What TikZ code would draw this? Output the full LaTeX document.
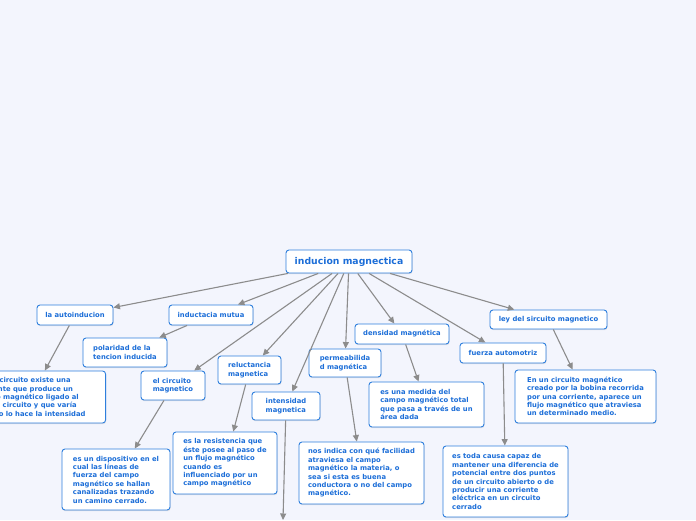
\documentclass[tikz,border=0pt]{standalone}
\usepackage{fontspec}
\setmainfont{DejaVu Sans}
\usetikzlibrary{arrows.meta,shadows}
\definecolor{mmblue}{HTML}{1C6ED8}
\definecolor{mmedge}{HTML}{2E7FDD}
\definecolor{mmgrey}{HTML}{8C8C8C}
\definecolor{mmbg}{HTML}{F3F5FD}

\begin{document}
\begin{tikzpicture}[
  x=1pt, y=-1pt,
  topic/.style={draw=mmedge, line width=0.9pt, fill=white, rounded corners=3pt,
                text=mmblue, align=left, inner xsep=8pt, inner ysep=2pt,
                font=\fontsize{6.8}{8.4}\selectfont\bfseries,
                drop shadow={shadow xshift=0.5pt, shadow yshift=-1.2pt, opacity=0.2}},
  main/.style={topic, align=center, font=\fontsize{9.3}{11}\selectfont\bfseries},
  link/.style={draw=mmgrey, line width=1.1pt, -{Triangle[length=6.5pt,width=6pt]}},
]

% ---------------- canvas -------------------------------------------
\fill[mmbg] (0,0) rectangle (696,520);
\clip (0,0) rectangle (696,520);

% ---------------- centre -------------------------------------------
\node[main, minimum width=126, minimum height=23] (root) at (349,261.5) {inducion magnectica};

% ---------------- first ring ---------------------------------------
\node[topic, minimum width=76, minimum height=20] (auto) at (75,315) {la autoinducion};
\node[topic, minimum width=84, minimum height=20] (mutua) at (211,315) {inductacia mutua};
\node[topic, minimum width=84, minimum height=29] (polar) at (125,352.5) {polaridad de la\\tencion inducida};
\node[topic, minimum width=64, minimum height=29] (circ) at (173,385.5) {el circuito\\magnetico};
\node[topic, minimum width=63, minimum height=28] (reluc) at (249.5,370) {reluctancia\\magnetica};
\node[topic, minimum width=68, minimum height=28] (inten) at (286,406) {intensidad\\magnetica};
\node[topic, minimum width=72, minimum height=28] (perm) at (345,363) {permeabilida\\d magnética};
\node[topic, minimum width=94, minimum height=20] (dens) at (402,334) {densidad magnética};
\node[topic, minimum width=117, minimum height=19] (ley) at (548.5,319.5) {ley del sircuito magnetico};
\node[topic, minimum width=86, minimum height=20] (fuerza) at (503,353) {fuerza automotriz};

% ---------------- descriptions -------------------------------------
\node[topic, anchor=east, minimum width=150, minimum height=52] (autoT) at (106,397)
  {En un circuito existe una\\corriente que produce un\\campo magnético ligado al\\propio circuito y que varía\\cuando lo hace la intensidad};
\node[topic, minimum width=108, minimum height=61] (circT) at (116,479.5)
  {es un dispositivo en el\\cual las líneas de\\fuerza del campo\\magnético se hallan\\canalizadas trazando\\un camino cerrado.};
\node[topic, minimum width=104, minimum height=62] (relucT) at (225,463)
  {es la resistencia que\\éste posee al paso de\\un flujo magnético\\cuando es\\influenciado por un\\campo magnético};
\coordinate (intenT) at (283,520);
\node[topic, minimum width=125, minimum height=62] (permT) at (361.5,473)
  {nos indica con qué facilidad\\atraviesa el campo\\magnético la materia, o\\sea si esta es buena\\conductora o no del campo\\magnético.};
\node[topic, minimum width=115, minimum height=45] (densT) at (426.5,404.5)
  {es una medida del\\campo magnético total\\que pasa a través de un\\área dada};
\node[topic, minimum width=141, minimum height=53] (leyT) at (585.5,396.5)
  {En un circuito magnético\\creado por la bobina recorrida\\por una corriente, aparece un\\flujo magnético que atraviesa\\un determinado medio.};
\node[topic, minimum width=125, minimum height=71] (fuerzaT) at (505.5,481.5)
  {es toda causa capaz de\\mantener una diferencia de\\potencial entre dos puntos\\de un circuito abierto o de\\producir una corriente\\eléctrica en un circuito\\cerrado};

% ---------------- links --------------------------------------------
\foreach \n in {auto,mutua,circ,reluc,inten,perm,dens,fuerza,ley}
  \draw[link] (root) -- (\n);
\draw[link] (auto) -- (autoT);
\draw[link] (mutua) -- (polar);
\draw[link] (circ) -- (circT);
\draw[link] (reluc) -- (relucT);
\draw[link] (inten) -- (intenT);
\draw[link] (perm) -- (permT);
\draw[link] (dens) -- (densT);
\draw[link] (ley) -- (leyT);
\draw[link] (fuerza) -- (fuerzaT);

\end{tikzpicture}
\end{document}
